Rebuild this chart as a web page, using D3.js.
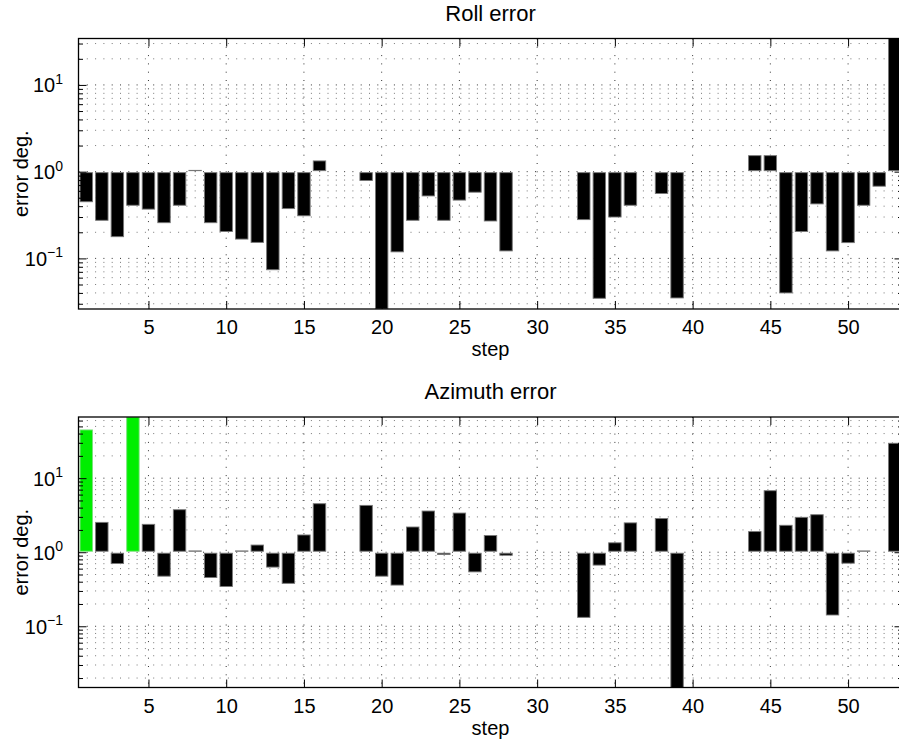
<!DOCTYPE html>
<html>
<head>
<meta charset="utf-8">
<script src="https://cdn.jsdelivr.net/npm/d3@7"></script>
<style>
  body { margin: 0; background: #fff; }
  svg { display: block; font-family: "Liberation Sans", Arial, Helvetica, sans-serif; }
</style>
</head>
<body>
<svg id="chart" width="899" height="744"></svg>
<script>
// step numbers 1..53, null = no bar at that step
var steps = d3.range(1, 54)

var rollError = [
  0.45, 0.275, 0.178, 0.41, 0.37, 0.258, 0.41, 1.0, 0.258, 0.204,
  0.167, 0.153, 0.074, 0.375, 0.31, 1.33, null, null, 0.79, 0.0261,
  0.119, 0.275, 0.525, 0.275, 0.47, 0.58, 0.27, 0.122, null, null,
  null, null, 0.28, 0.0347, 0.30, 0.41, null, 0.56, 0.035, null,
  null, null, null, 1.53, 1.53, 0.040, 0.204, 0.425, 0.122, 0.152,
  0.41, 0.68, 34.3
]

var azimuthError = [
  44.8, 2.53, 0.705, 67, 2.38, 0.475, 3.75, 1.04, 0.456, 0.345,
  1.03, 1.25, 0.63, 0.38, 1.71, 4.52, null, null, 4.29, 0.475,
  0.36, 2.19, 3.6, 0.93, 3.38, 0.543, 1.68, 0.91, null, null,
  null, null, 0.132, 0.67, 1.34, 2.49, null, 2.85, 0.0149, null,
  null, null, null, 1.9, 6.77, 2.31, 2.96, 3.21, 0.142, 0.711,
  1.0, null, 29.6
]

// steps drawn in green in the azimuth panel
var azimuthFlagged = [1, 4]

var xTicks = [5, 10, 15, 20, 25, 30, 35, 40, 45, 50]
var decades = [-2, -1, 0, 1, 2]

var svg = d3.select('#chart')

var margin = { left: 78.5, right: 902.5 }
var panelHeight = 270.5

var x = d3.scaleLinear()
  .domain([0.5, 53.5])
  .range([margin.left, margin.right])
var barWidth = (x(1.4) - x(0.6))

function drawPanel (top, values, title, flagged) {
  var bottom = top + panelHeight
  var present = values.filter(function (v) { return v != null })
  var y = d3.scaleLog()
    .domain(d3.extent(present))
    .range([bottom, top])
  var lo = y.domain()[0]
  var hi = y.domain()[1]

  var majors = []
  var minors = []
  decades.forEach(function (e) {
    for (var k = 1; k < 10; k++) {
      var v = k * Math.pow(10, e)
      if (v < lo || v > hi) continue
      if (k === 1) majors.push(v)
      else minors.push(v)
    }
  })

  var clipId = 'clip' + Math.round(top)
  svg.append('clipPath').attr('id', clipId)
    .append('rect')
    .attr('x', margin.left).attr('y', top)
    .attr('width', margin.right - margin.left).attr('height', panelHeight)

  var g = svg.append('g')

  // dotted grid
  var grid = g.append('g').attr('clip-path', 'url(#' + clipId + ')')
  grid.selectAll('.hminor')
    .data(minors)
    .enter().append('line')
    .attr('x1', margin.left).attr('x2', margin.right)
    .attr('y1', function (d) { return y(d) }).attr('y2', function (d) { return y(d) })
    .attr('stroke', '#777').attr('stroke-width', 1)
    .attr('stroke-dasharray', '1,7.3')
  grid.selectAll('.hmajor')
    .data(majors)
    .enter().append('line')
    .attr('x1', margin.left).attr('x2', margin.right)
    .attr('y1', function (d) { return y(d) }).attr('y2', function (d) { return y(d) })
    .attr('stroke', '#333').attr('stroke-width', 1)
    .attr('stroke-dasharray', '1,7.3')
  grid.selectAll('.vmajor')
    .data(xTicks)
    .enter().append('line')
    .attr('x1', function (d) { return x(d) }).attr('x2', function (d) { return x(d) })
    .attr('y1', top).attr('y2', bottom)
    .attr('stroke', '#333').attr('stroke-width', 1)
    .attr('stroke-dasharray', '1,7.3')

  // bars grow from 1 (log baseline)
  var base = y(1)
  var bars = steps.map(function (s, i) { return { step: s, value: values[i] } })
    .filter(function (d) { return d.value != null })

  g.append('g').attr('clip-path', 'url(#' + clipId + ')')
    .selectAll('rect')
    .data(bars)
    .enter().append('rect')
    .attr('x', function (d) { return x(d.step) - barWidth / 2 })
    .attr('width', barWidth)
    .attr('y', function (d) {
      return d.value >= 1 ? Math.min(y(d.value), base - 1.3) : base + 1
    })
    .attr('height', function (d) {
      return d.value >= 1 ? Math.max(0.3, base - 1 - y(d.value)) : Math.max(0.3, y(d.value) - base - 1)
    })
    .attr('fill', function (d) {
      return flagged.indexOf(d.step) >= 0 ? '#00ee00' : '#000'
    })
    .attr('stroke', function (d) {
      return flagged.indexOf(d.step) >= 0 ? '#7be07b' : '#777'
    })
    .attr('stroke-width', 0.9)

  // ticks, pointing inward on all four sides
  var axes = [
    { axis: d3.axisBottom(x).tickValues(xTicks).tickSizeInner(-8).tickSizeOuter(0).tickPadding(11), t: 'translate(0,' + bottom + ')' },
    { axis: d3.axisTop(x).tickValues(xTicks).tickSizeInner(-8).tickSizeOuter(0).tickFormat(''), t: 'translate(0,' + top + ')' },
    { axis: d3.axisLeft(y).tickValues(majors).tickSizeInner(-8).tickSizeOuter(0).tickFormat(''), t: 'translate(' + margin.left + ',0)' },
    { axis: d3.axisLeft(y).tickValues(minors).tickSizeInner(-4.5).tickSizeOuter(0).tickFormat(''), t: 'translate(' + margin.left + ',0)' },
    { axis: d3.axisRight(y).tickValues(majors).tickSizeInner(-8).tickSizeOuter(0).tickFormat(''), t: 'translate(' + margin.right + ',0)' },
    { axis: d3.axisRight(y).tickValues(minors).tickSizeInner(-4.5).tickSizeOuter(0).tickFormat(''), t: 'translate(' + margin.right + ',0)' }
  ]
  axes.forEach(function (a) {
    var ag = g.append('g').attr('transform', a.t).call(a.axis)
    ag.select('.domain').remove()
    ag.selectAll('line').attr('stroke', '#000')
    ag.selectAll('text')
      .attr('font-size', 20)
      .attr('font-family', '"Liberation Sans", Arial, sans-serif')
      .attr('fill', '#000')
  })

  // axes box
  g.append('rect')
    .attr('x', margin.left).attr('y', top)
    .attr('width', margin.right - margin.left).attr('height', panelHeight)
    .attr('fill', 'none').attr('stroke', '#000').attr('stroke-width', 1.3)

  // y tick labels 10^n
  var lab = g.selectAll('.ylab')
    .data(majors)
    .enter().append('text')
    .attr('x', 63)
    .attr('y', function (d) { return y(d) + 7.5 })
    .attr('text-anchor', 'end')
    .attr('font-size', 20)
  lab.append('tspan').text('10')
  lab.append('tspan')
    .attr('dy', -8.5)
    .attr('font-size', 14)
    .text(function (d) {
      var e = Math.round(Math.log10(d))
      return e < 0 ? '\u2212' + (-e) : String(e)
    })

  g.append('text')
    .attr('x', (margin.left + margin.right) / 2)
    .attr('y', top - 18)
    .attr('text-anchor', 'middle')
    .attr('font-size', 22)
    .text(title)

  g.append('text')
    .attr('x', (margin.left + margin.right) / 2)
    .attr('y', bottom + 47)
    .attr('text-anchor', 'middle')
    .attr('font-size', 20)
    .text('step')

  g.append('text')
    .attr('transform', 'translate(28,' + (top + panelHeight / 2) + ') rotate(-90)')
    .attr('text-anchor', 'middle')
    .attr('font-size', 20)
    .text('error deg.')
}

drawPanel(38.5, rollError, 'Roll error', [])
drawPanel(417, azimuthError, 'Azimuth error', azimuthFlagged)
</script>
</body>
</html>
